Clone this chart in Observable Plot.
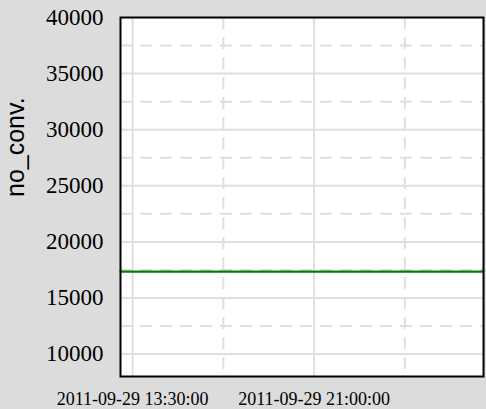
<!DOCTYPE html>
<html><head><meta charset="utf-8">
<script src="https://cdn.jsdelivr.net/npm/d3@7"></script>
<script src="https://cdn.jsdelivr.net/npm/@observablehq/plot@0.6"></script>
<style>
html,body{margin:0;padding:0;background:#dcdcdc;}
g[aria-label="y-axis tick label"], g[aria-label="y-axis tick label"] text {font-family:'Liberation Serif','Times New Roman',serif !important; font-size:23px !important;}
g[aria-label="x-axis tick label"], g[aria-label="x-axis tick label"] text {font-family:'Liberation Serif','Times New Roman',serif !important; font-size:18px !important;}
g.ylab text {font-family:'Liberation Sans',Arial,sans-serif !important; font-size:25px !important;}
</style>
</head><body><div id="chart"></div>
<script>
const times = ["2011-09-29T13:00:00Z","2011-09-29T14:00:00Z","2011-09-29T15:00:00Z","2011-09-29T16:00:00Z","2011-09-29T17:00:00Z","2011-09-29T18:00:00Z","2011-09-29T19:00:00Z","2011-09-29T20:00:00Z","2011-09-29T21:00:00Z","2011-09-29T22:00:00Z","2011-09-29T23:00:00Z","2011-09-30T00:00:00Z","2011-09-30T01:00:00Z","2011-09-30T02:00:00Z","2011-09-30T03:00:00Z","2011-09-30T04:00:00Z"];
const values = [17350,17350,17350,17350,17350,17350,17350,17350,17350,17350,17350,17350,17350,17350,17350,17350];
const xDomain = ["2011-09-29T13:00:00Z","2011-09-30T04:00:00Z"];
const xTicks = ["2011-09-29T13:30:00Z","2011-09-29T21:00:00Z"];
const xMinorTicks = ["2011-09-29T17:15:00Z","2011-09-30T00:45:00Z"];
const yDomain = [8000,40000];
const yTicks = [10000,15000,20000,25000,30000,35000,40000];
const yMinorTicks = [12500,17500,22500,27500,32500,37500];
const yLabel = "no_conv.";

const data = times.map((t,i)=>({t:new Date(t), v:values[i]}));
const gridColor = "#dfdfdf";

const chart = Plot.plot({
  width:486, height:409,
  marginLeft:120, marginTop:17, marginRight:3, marginBottom:33,
  style:{background:"#dcdcdc", overflow:"visible", color:"black"},
  x:{type:"utc", domain:xDomain.map(d=>new Date(d)), label:null},
  y:{domain:yDomain, label:null},
  marks:[
    Plot.frame({fill:"white", stroke:null}),
    Plot.ruleY(yMinorTicks,{stroke:gridColor, strokeWidth:2, strokeDasharray:"12,8"}),
    Plot.ruleX(xMinorTicks.map(d=>new Date(d)),{stroke:gridColor, strokeWidth:2, strokeDasharray:"12,8"}),
    Plot.ruleY(yTicks,{stroke:gridColor, strokeWidth:2}),
    Plot.ruleX(xTicks.map(d=>new Date(d)),{stroke:gridColor, strokeWidth:2}),
    Plot.line(data,{x:"t", y:"v", stroke:"green", strokeWidth:2.2}),
    Plot.frame({stroke:"black", strokeWidth:2}),
    Plot.axisY({ticks:yTicks, tickSize:0, tickPadding:17, label:null, tickFormat:d=>String(d)}),
    Plot.axisX({ticks:xTicks.map(d=>new Date(d)), tickSize:0, tickPadding:16, label:null, tickFormat:d3.utcFormat("%Y-%m-%d %H:%M:%S")}),
    Plot.text([yLabel],{frameAnchor:"left", rotate:-90, dx:-105, fill:"black", className:"ylab"})
  ]
});
document.getElementById("chart").appendChild(chart);
</script>
</body></html>
